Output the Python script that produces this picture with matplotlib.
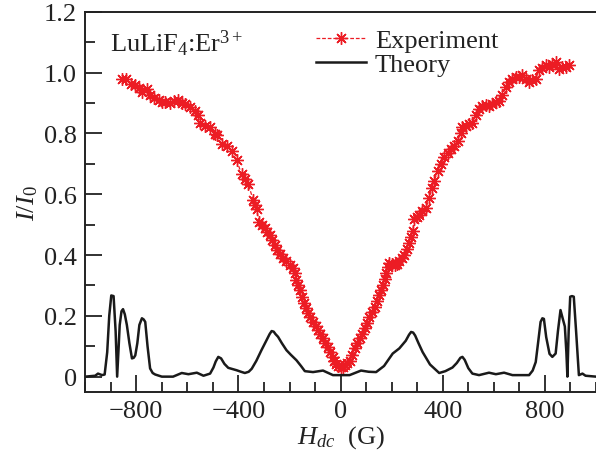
import numpy as np
import matplotlib
matplotlib.use("Agg")
import matplotlib.pyplot as plt
from matplotlib.ticker import MultipleLocator, FuncFormatter

plt.rcParams['font.family'] = ['Liberation Serif', 'DejaVu Serif']
plt.rcParams['mathtext.fontset'] = 'custom'
plt.rcParams['mathtext.rm'] = 'Liberation Serif'
plt.rcParams['mathtext.it'] = 'Liberation Serif:italic'

# experiment (field in G, I/I0)
exp_h = [-856, -840, -820, -804, -790, -778, -759, -745, -732, -713, -700, -687, -670,
         -654, -635, -622, -609, -589, -570, -560, -550, -531, -511, -492, -485, -466,
         -446, -427, -407, -388, -375, -362, -342, -335, -329, -319, -308, -297, -287,
         -277, -268, -258, -248, -238, -225, -212, -200, -186, -180, -173, -166, -160,
         -152, -144, -136, -128, -118, -108, -98, -89, -79, -69, -60, -50, -40, -30,
         -24, -17, -10, 0, 9, 18, 26, 35, 45, 55, 65, 74, 84, 94, 104, 113, 123, 133,
         143, 152, 160, 165, 172, 178, 185, 191, 200, 211, 220, 230, 240, 250, 260,
         269, 277, 282, 289, 298, 308, 320, 334, 347, 358, 367, 380, 393, 406, 419,
         432, 445, 458, 470, 477, 490, 503, 516, 530, 542, 555, 568, 581, 594, 607,
         620, 633, 647, 660, 673, 686, 699, 711, 725, 738, 751, 764, 777, 790, 803,
         815, 829, 842, 855, 868, 881, 894]
exp_i = [0.980, 0.978, 0.963, 0.960, 0.950, 0.936, 0.947, 0.925, 0.917, 0.910, 0.905,
         0.905, 0.900, 0.907, 0.910, 0.900, 0.897, 0.886, 0.875, 0.860, 0.836, 0.825,
         0.820, 0.798, 0.795, 0.765, 0.760, 0.743, 0.712, 0.666, 0.650, 0.635, 0.580,
         0.565, 0.550, 0.509, 0.500, 0.489, 0.475, 0.465, 0.450, 0.434, 0.418, 0.403,
         0.390, 0.379, 0.368, 0.357, 0.340, 0.318, 0.300, 0.285, 0.262, 0.241, 0.225,
         0.208, 0.195, 0.181, 0.167, 0.153, 0.140, 0.126, 0.112, 0.098, 0.080, 0.065,
         0.050, 0.040, 0.035, 0.033, 0.032, 0.038, 0.045, 0.050, 0.070, 0.093, 0.110,
         0.126, 0.140, 0.159, 0.178, 0.197, 0.212, 0.230, 0.250, 0.269, 0.285, 0.302,
         0.320, 0.340, 0.360, 0.374, 0.370, 0.368, 0.372, 0.379, 0.390, 0.401, 0.420,
         0.440, 0.460, 0.478, 0.517, 0.525, 0.533, 0.545, 0.555, 0.588, 0.621, 0.644,
         0.677, 0.700, 0.721, 0.737, 0.748, 0.760, 0.776, 0.800, 0.820, 0.825, 0.832,
         0.836, 0.860, 0.880, 0.892, 0.893, 0.892, 0.897, 0.905, 0.908, 0.925, 0.952,
         0.969, 0.980, 0.985, 0.985, 0.991, 0.980, 0.970, 0.975, 0.980, 1.010, 1.015,
         1.024, 1.020, 1.030, 1.035, 1.013, 1.020, 1.018, 1.024]

# theory curve
th_h = [-1000, -961, -950, -934, -924, -914, -906, -898, -889, -881, -875, -869, -865,
        -858, -852, -845, -837, -827, -817, -810, -804, -796, -788, -778, -771, -765,
        -756, -746, -736, -726, -700, -656, -622, -596, -563, -537, -511, -498, -489,
        -479, -468, -455, -440, -407, -390, -375, -360, -348, -330, -310, -290, -278,
        -270, -262, -255, -245, -230, -212, -195, -173, -155, -140, -108, -69, -30, 35,
        80, 110, 139, 170, 204, 230, 255, 268, 276, 284, 292, 305, 321, 350, 386, 410,
        438, 455, 469, 477, 486, 500, 516, 542, 581, 608, 640, 673, 738, 752, 764,
        773, 783, 790, 796, 805, 818, 829, 842, 851, 861, 870, 878, 884, 888, 893, 899,
        906, 913, 922, 933, 947, 959, 1000]
th_i = [0.0, 0.003, 0.010, 0.005, 0.007, 0.080, 0.200, 0.267, 0.265, 0.150, 0.0, 0.100,
        0.170, 0.215, 0.222, 0.205, 0.170, 0.110, 0.060, 0.062, 0.070, 0.110, 0.170,
        0.192, 0.188, 0.180, 0.100, 0.027, 0.012, 0.007, 0.0, 0.0, 0.012, 0.008, 0.013,
        0.003, 0.010, 0.030, 0.050, 0.065, 0.060, 0.042, 0.029, 0.021, 0.016, 0.012,
        0.016, 0.026, 0.052, 0.087, 0.120, 0.140, 0.150, 0.148, 0.140, 0.131, 0.110,
        0.087, 0.072, 0.054, 0.035, 0.018, 0.015, 0.020, 0.005, 0.005, 0.020, 0.016,
        0.015, 0.035, 0.076, 0.093, 0.118, 0.138, 0.147, 0.145, 0.135, 0.110, 0.081,
        0.040, 0.012, 0.018, 0.030, 0.045, 0.062, 0.065, 0.055, 0.028, 0.010, 0.005,
        0.013, 0.008, 0.013, 0.005, 0.005, 0.020, 0.048, 0.110, 0.180, 0.192, 0.190,
        0.130, 0.075, 0.065, 0.076, 0.150, 0.219, 0.190, 0.165, 0.080, 0.0, 0.150,
        0.263, 0.265, 0.263, 0.150, 0.005, 0.010, 0.003, 0.0]

red = '#ec1c24'

fig = plt.figure(figsize=(5.96, 4.6), dpi=100)
ax = fig.add_axes([0.143, 0.146, 0.857, 0.826])

ax.plot(exp_h, exp_i, color=red, ls=(0, (3, 1.5)), lw=0.9, marker=(8, 2, 0), ms=9,
        mew=1.0, label='Experiment')
ax.plot(th_h, th_i, color='#1a1a1a', lw=1.8, solid_joinstyle='round', label='Theory')

ax.set_xlim(-1000, 1000)
ax.set_ylim(-0.05, 1.2)
ax.xaxis.set_major_locator(MultipleLocator(400))
ax.xaxis.set_minor_locator(MultipleLocator(100))
ax.yaxis.set_major_locator(MultipleLocator(0.2))
ax.yaxis.set_minor_locator(MultipleLocator(0.1))
ax.xaxis.set_major_formatter(FuncFormatter(lambda v, p: f"{int(v)}".replace('-', '\u2212')))
ax.yaxis.set_major_formatter(FuncFormatter(lambda v, p: '0' if abs(v) < 1e-9 else f"{v:.1f}"))

ax.tick_params(which='both', direction='in', labelsize=19, width=1.3, color='#222222',
               labelcolor='#222222')
ax.tick_params(which='major', length=12, pad=6)
ax.tick_params(which='minor', length=7)
ax.spines['right'].set_visible(False)
for s in ['left', 'bottom', 'top']:
    ax.spines[s].set_linewidth(1.4)
    ax.spines[s].set_color('#222222')

ax.set_xlabel(r'$H_{dc}$  (G)', fontsize=19, labelpad=1, color='#222222')
ax.set_ylabel(r'$I/I_0$', fontsize=19, labelpad=3, color='#222222')

ax.text(0.048, 0.958, r'LuLiF$_4$:Er$^{3+}$', transform=ax.transAxes, fontsize=19,
        va='top', ha='left', color='#222222')

leg = ax.legend(loc='upper left', bbox_to_anchor=(0.425, 0.99), frameon=False, fontsize=19,
                handlelength=1.9, handletextpad=0.35, labelspacing=0.0, numpoints=1,
                borderpad=0)
for t in leg.get_texts():
    t.set_color('#222222')

fig.savefig('out.png', dpi=100)
